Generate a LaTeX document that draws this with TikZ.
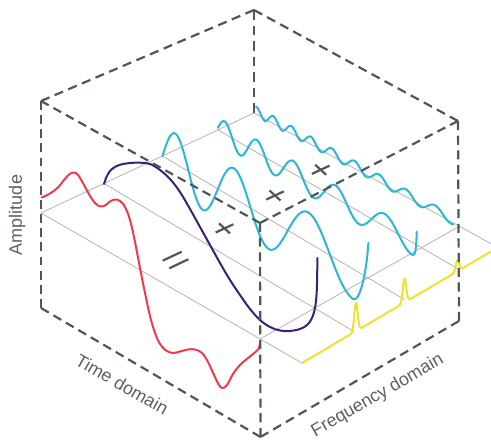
\documentclass[tikz,border=0pt]{standalone}
\usepackage{fontspec}
\setmainfont{Liberation Sans}
\definecolor{edgec}{HTML}{50575A}
\definecolor{gridc}{HTML}{B4B4B4}
\definecolor{redc}{HTML}{EE3A4C}
\definecolor{purc}{HTML}{3A1F72}
\definecolor{cyac}{HTML}{2BB7D5}
\definecolor{yelc}{HTML}{EEE22E}
\definecolor{txtc}{HTML}{5B6265}
\begin{document}
\begin{tikzpicture}[x=1pt,y=-1pt,
  edge/.style={draw=edgec, line width=2.2pt},
  gridl/.style={draw=gridc, line width=0.8pt},
  curve/.style={line width=2pt, line cap=round, line join=round},
  symb/.style={draw=edgec, line width=2.2pt},
  lbl/.style={text=txtc, font=\fontsize{18}{22}\selectfont, inner sep=0pt}]
\useasboundingbox (0,0) rectangle (491,443);
\clip (0,0) rectangle (491,443);

% cube corners
\coordinate (TL) at (41,101);
\coordinate (BL) at (41,308);
\coordinate (TB) at (254,10);
\coordinate (PB) at (254,113);
\coordinate (TR) at (458,121);
\coordinate (BR) at (459,321);
\coordinate (TF) at (260,223);
\coordinate (BF) at (260.5,437);

% plane grid points
\coordinate (P0) at (41,213);
\coordinate (P1) at (104,183.5);
\coordinate (P2) at (162.5,156);
\coordinate (P3) at (218,130);
\coordinate (P4) at (254,113);
\coordinate (E0) at (302,363);
\coordinate (E1) at (354,331.5);
\coordinate (E2) at (404.5,299.5);
\coordinate (E3) at (457.5,268.5);
\coordinate (E4) at (497,247);
\coordinate (Q0) at (260,339);
\coordinate (Q4) at (459,226.5);

% grid
\draw[gridl] (P0) -- (P4);
\draw[gridl] (Q0) -- (Q4);
\foreach \i in {0,...,4} \draw[gridl] (P\i) -- (E\i);

% yellow spectrum
\begin{scope}[shift={(302,363)}, x={(1pt,0.59pt)}, y={(0pt,1pt)}]
\draw[curve, yelc] (0,0) -- (46,0)
  -- plot[domain=46:62, samples=60] (\x, {28*exp(0-((\x-54)/2.4)^2)})
  -- (94.5,0)
  -- plot[domain=94.5:110.5, samples=60] (\x, {24*exp(0-((\x-102.5)/2.4)^2)})
  -- (147.5,0)
  -- plot[domain=147.5:163.5, samples=60] (\x, {11*exp(0-((\x-155.5)/2.4)^2)})
  -- (200,0);
\end{scope}

% red composite signal
\draw[curve, redc] plot[smooth, tension=0.6] coordinates {
 (41.7,197.5) (50,193.5) (58,187.5) (64,180) (69,174.5) (73.5,172.5) (78,175)
 (84,185) (90,196) (95,203) (100,206.5) (105,205.5) (110,201.5) (115,199.5)
 (120,201) (125,207) (130,220) (135,242) (140,268) (145,293) (150,316)
 (155,333) (160,344) (166,350.5) (173,353) (180,351.5) (188,349.5) (195,349.5)
 (202,353) (208,362) (214,375) (219,385) (222.5,388) (227,385) (233,374)
 (240,365) (248,358) (255,352.5) (258.5,349) (260,344)};

% purple component
\draw[curve, purc] plot[smooth, tension=0.6] coordinates {
 (104,184) (106.5,177) (110,171) (115,167) (121,164.5) (130,163) (140,162.7)
 (150,164) (160,170) (170,179) (180,192) (190,209) (200,227) (210,245)
 (220,263) (230,280) (240,295) (250,309) (260,320) (270,327) (280,330.5)
 (290,331) (300,329) (307,325) (312,318) (315.5,305) (317,285) (317.3,258)};

% cyan 1
\begin{scope}[shift={(162.5,156)}, x={(204.2pt,-121.1pt)}, y={(0pt,1pt)}]
\draw[curve, cyac] plot[domain=0:0.9355, samples=160]
  (\x, {30*sin(1036.8*\x/(0.7+0.3*\x))})
  .. controls (0.9655,-30) and (1.0,5) .. (1.008,35);
\end{scope}

% cyan 2
\begin{scope}[shift={(218,130)}, x={(202.1pt,-116.9pt)}, y={(0pt,1pt)}]
\draw[curve, cyac] plot[domain=0:0.963, samples=220]
  (\x, {12.5*sin(1746*\x/(0.7+0.3*\x)+9.7)})
  .. controls (0.975,-12.5) and (0.982,-4) .. (0.983,13.2);
\end{scope}

% cyan 3
\begin{scope}[shift={(254,113)}, x={(205pt,-113pt)}, y={(0pt,1pt)}]
\draw[curve, cyac] plot[domain=0.01:0.972, samples=400]
  (\x, {2.75+4.75*sin(3204*\x/(0.7+0.3*\x)+36.7)});
\end{scope}

% dashed cube edges
\draw[edge, dash pattern=on 9.2pt off 5.62pt] (TL) -- (TB);
\draw[edge, dash pattern=on 9.23pt off 5.64pt] (TB) -- (TR);
\draw[edge, dash pattern=on 8.85pt off 5.41pt] (TR) -- (TF);
\draw[edge, dash pattern=on 8.83pt off 5.4pt] (TL) -- (TF);
\draw[edge, dash pattern=on 8.78pt off 5.37pt] (TL) -- (BL);
\draw[edge, dash pattern=on 9.08pt off 5.55pt] (TF) -- (BF);
\draw[edge, dash pattern=on 9.11pt off 5.57pt] (TR) -- (BR);
\draw[edge, dash pattern=on 9.66pt off 5.9pt] (TB) -- (PB);
\draw[edge, dash pattern=on 8.97pt off 5.48pt] (BL) -- (BF);
\draw[edge, dash pattern=on 9.14pt off 5.58pt] (BR) -- (BF);

% operators
\draw[symb] (162.7,260.7) -- (181.7,251.7);
\draw[symb] (169.3,268.3) -- (188.3,259.3);
\draw[symb] (215.7,232.5) -- (233.3,224.3);
\draw[symb] (219,223.4) -- (230,233.4);
\draw[symb] (266.2,199.6) -- (283.8,191.4);
\draw[symb] (269.5,190.5) -- (280.5,200.5);
\draw[symb] (311.9,173.9) -- (329.5,165.7);
\draw[symb] (315.2,164.8) -- (326.2,174.8);

% labels
\node[lbl, rotate=90, anchor=base] (amp) at (22,215) {Amplitude};
\node[lbl, rotate=-30, anchor=base] (td) at (119,390) {Time domain};
\node[lbl, rotate=30, anchor=base] (fd) at (380,400) {Frequency domain};
\end{tikzpicture}
\end{document}
